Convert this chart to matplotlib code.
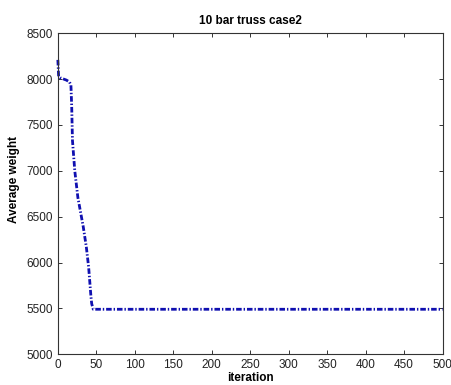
import matplotlib
matplotlib.use("Agg")
import matplotlib.pyplot as plt

# average weight per iteration
iterations = [0, 1, 3, 11, 15, 17, 18, 19, 22, 26, 33, 37, 40, 43, 44, 46, 500]
avg_weight = [8210, 8030, 8015, 7990, 7970, 7935, 7700, 7330, 7000, 6710,
              6390, 6170, 5950, 5630, 5550, 5490, 5490]

xticks = [0, 50, 100, 150, 200, 250, 300, 350, 400, 450, 500]
yticks = [5000, 5500, 6000, 6500, 7000, 7500, 8000, 8500]

plt.rcParams['font.family'] = ['Liberation Sans', 'DejaVu Sans']

fig = plt.figure(figsize=(4.52, 3.85), dpi=100)
ax = fig.add_axes([0.128, 0.08, 0.851, 0.8335])

ax.plot(iterations, avg_weight, color='#1010b0', linewidth=2.0,
        linestyle=(0, (2.0, 0.7, 0.5, 0.7)), clip_on=False)

ax.set_xlim(0, 500)
ax.set_ylim(5000, 8500)
ax.set_xticks(xticks)
ax.set_yticks(yticks)
ax.tick_params(direction='in', length=3, width=0.7, labelsize=8.5,
               top=True, right=True, colors='#333333', labelcolor='#222222')
for s in ax.spines.values():
    s.set_linewidth(0.8)
    s.set_color('#333333')

ax.set_title('10 bar truss case2', fontsize=8.5, fontweight='bold', pad=7)
ax.set_xlabel('iteration', fontsize=8.5, fontweight='bold', labelpad=1)
ax.set_ylabel('Average weight', fontsize=8.5, fontweight='bold', labelpad=10)
ax.yaxis.set_label_coords(-0.098, 0.543)

fig.savefig('out.png', dpi=100)
